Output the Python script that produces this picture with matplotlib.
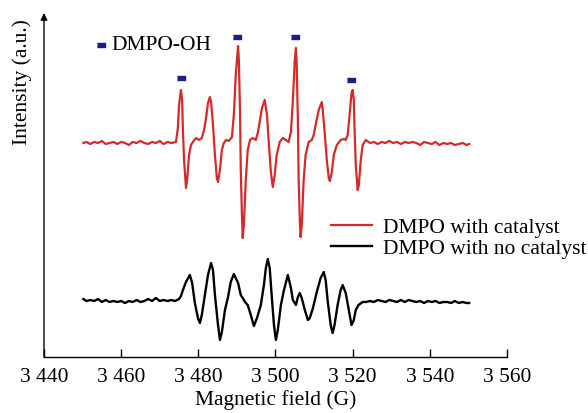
import matplotlib
matplotlib.use("Agg")
import matplotlib.pyplot as plt
from matplotlib.ticker import FuncFormatter

plt.rcParams["font.family"] = ["Liberation Serif", "DejaVu Serif"]
plt.rcParams["font.size"] = 15.5

# EPR spectrum with catalyst (field in G, intensity in a.u.)
field_cat = [
    3450.2, 3451, 3452, 3453, 3454, 3455, 3456, 3457, 3458, 3459, 3460, 3461, 3462,
    3463, 3464, 3465, 3466, 3467, 3468, 3469, 3470, 3471, 3472, 3473, 3474.2,
    3474.7, 3475.0, 3475.5, 3475.8, 3476.0, 3476.3, 3476.8, 3477.1, 3477.6, 3478.1,
    3478.6, 3479.4, 3480.2, 3480.9, 3481.5, 3482.0, 3482.5, 3483.0, 3483.3, 3483.8,
    3484.3, 3484.8, 3485.1, 3485.6, 3486.1, 3486.6, 3487.2, 3487.9, 3488.7, 3489.2,
    3489.7, 3490.3, 3490.5, 3490.8, 3491.0, 3491.3, 3491.5, 3491.8, 3492.3, 3492.8,
    3493.4, 3494.1, 3494.9, 3495.4, 3495.9, 3496.5, 3497.2, 3497.8, 3498.3, 3498.8,
    3499.3, 3499.8, 3500.3, 3501.1, 3501.9, 3502.7, 3503.4, 3504.0, 3504.5, 3505.0,
    3505.3, 3505.5, 3505.8, 3506.0, 3506.3, 3506.5, 3506.8, 3507.3, 3507.8, 3508.6,
    3509.4, 3509.9, 3510.4, 3511.2, 3512.0, 3512.2, 3512.8, 3513.3, 3513.8, 3514.1,
    3514.6, 3515.1, 3515.9, 3516.9, 3517.7, 3518.2, 3518.7, 3519.2, 3519.7, 3520.0,
    3520.3, 3520.5, 3520.8, 3521.3, 3521.6, 3522.1, 3522.6, 3523.4,
    3524.5, 3525.5, 3526.5, 3527.5, 3528.5, 3529.5, 3530.5, 3531.5, 3532.5, 3533.5,
    3534.5, 3535.5, 3536.5, 3537.5, 3538.5, 3539.5, 3540.5, 3541.5, 3542.5, 3543.5,
    3544.5, 3545.5, 3546.5, 3547.5, 3548.5, 3549.5, 3550.2,
]
signal_cat = [
    214, 215, 213, 215, 214, 216, 213, 214, 215, 213, 215, 214, 212,
    215, 214, 216, 214, 213, 215, 214, 216, 213, 215, 214, 215,
    229, 252, 267, 257, 227, 197, 169, 177, 202, 212,
    215, 219, 217, 219, 227, 239, 254, 260, 255, 232,
    202, 179, 175, 187, 207, 214, 217, 216, 220, 242,
    282, 311, 297, 247, 187, 142, 119, 132, 177, 207,
    217, 219, 217, 224, 235, 249, 257, 242, 212, 185,
    170, 182, 202, 215, 219, 217, 215, 225, 257, 297,
    309, 292, 237, 177, 137, 120, 132, 177, 202, 215,
    217, 222, 232, 247, 255, 249, 222, 197, 179, 176,
    185, 202, 212, 217, 218, 217, 222, 242, 264, 267,
    257, 227, 192, 167, 172, 197, 212, 217,
    214, 215, 213, 215, 214, 216, 214, 215, 213, 215,
    214, 215, 214, 212, 215, 214, 213, 215, 212, 214,
    213, 214, 212, 213, 214, 212, 213,
]

# EPR spectrum without catalyst
field_blank = [
    3450.2, 3451, 3452, 3453, 3454, 3455, 3456, 3457, 3458, 3459, 3460, 3461, 3462,
    3463, 3464, 3465, 3466, 3467, 3468, 3469, 3470, 3471, 3472, 3473, 3474,
    3475.0, 3475.5, 3476.0, 3476.8, 3477.8, 3478.4, 3479.1, 3479.9, 3480.4, 3480.9,
    3481.7, 3482.5, 3483.3, 3483.8, 3484.3, 3485.1, 3485.6, 3486.1, 3486.9, 3487.7,
    3488.4, 3489.2, 3489.7, 3490.3, 3491.0, 3491.5, 3492.1, 3492.8, 3493.6, 3494.4,
    3495.2, 3496.2, 3497.0, 3497.5, 3498.0, 3498.5, 3499.0, 3499.6, 3500.1, 3500.6,
    3501.4, 3502.2, 3503.2, 3504.0, 3504.5, 3505.3, 3505.8, 3506.3, 3506.8, 3507.6,
    3508.4, 3508.9, 3509.7, 3510.7, 3511.7, 3512.5, 3513.0, 3513.5, 3514.3, 3514.8,
    3515.3, 3516.1, 3516.9, 3517.4, 3518.2, 3519.0, 3519.7, 3520.3, 3520.8, 3521.5,
    3522.6,
    3523.5, 3524.5, 3525.5, 3526.5, 3527.5, 3528.5, 3529.5, 3530.5, 3531.5, 3532.5,
    3533.5, 3534.5, 3535.5, 3536.5, 3537.5, 3538.5, 3539.5, 3540.5, 3541.5, 3542.5,
    3543.5, 3544.5, 3545.5, 3546.5, 3547.5, 3548.5, 3549.5, 3550.2,
]
signal_blank = [
    58, 56, 57, 56, 58, 55, 57, 55, 56, 55, 56, 54, 56,
    55, 57, 55, 56, 58, 56, 59, 56, 57, 56, 57, 56,
    58, 61, 67, 75, 82, 74, 54, 39, 34, 42,
    62, 82, 94, 87, 62, 32, 17, 25, 47, 60,
    75, 83, 79, 74, 62, 59, 55, 52, 42, 31,
    39, 52, 72, 89, 98, 89, 62, 32, 17, 27,
    52, 67, 82, 69, 57, 52, 60, 64, 59, 47,
    37, 39, 49, 65, 79, 85, 77, 57, 32, 24,
    32, 52, 67, 72, 64, 47, 32, 37, 47, 52,
    55,
    55, 56, 55, 57, 56, 55, 57, 56, 55, 57,
    55, 57, 56, 55, 56, 54, 56, 55, 56, 54,
    55, 55, 54, 56, 54, 55, 54, 54,
]

# DMPO-OH quartet positions and marker heights
oh_field = [3475.4, 3490.1, 3505.0, 3519.6]
oh_level = [279, 320, 320, 277]

xticks = [3440, 3460, 3480, 3500, 3520, 3540, 3560]

RED = "#d42a2a"
NAVY = "#1c1c8a"

fig = plt.figure(figsize=(5.88, 4.13), dpi=100)
ax = fig.add_axes([44 / 588, 56 / 413, 463 / 588, 344 / 413])

ax.plot(field_cat, signal_cat, color=RED, lw=1.6, label="DMPO with catalyst", zorder=3)
ax.plot(field_blank, signal_blank, color="black", lw=1.7, label="DMPO with no catalyst", zorder=3)

rect = [(-1.0, -0.55), (1.0, -0.55), (1.0, 0.55), (-1.0, 0.55)]
ax.plot(oh_field, oh_level, ls="none", marker=rect, ms=6.0, color=NAVY, zorder=4)

ax.set_xlim(3440, 3560)
ax.set_ylim(0, 344)
ax.set_xticks(xticks)
ax.xaxis.set_major_formatter(FuncFormatter(lambda v, p: f"{int(v) // 1000} {int(v) % 1000:03d}"))
ax.set_yticks([])
ax.tick_params(axis="x", direction="in", length=6, width=1.0, pad=8, labelsize=15.5)

for side in ("top", "right", "left"):
    ax.spines[side].set_visible(False)
ax.spines["bottom"].set_linewidth(1.0)

# left axis drawn as an arrow
ax.annotate("", xy=(0, 1.0), xytext=(0, 0), xycoords="axes fraction",
            arrowprops=dict(arrowstyle="-|>", color="black", lw=1.0,
                            mutation_scale=10, shrinkA=0, shrinkB=0))

ax.set_xlabel("Magnetic field (G)", fontsize=15.5, labelpad=2.5)
ax.set_ylabel("Intensity (a.u.)", fontsize=15.5)
ax.yaxis.set_label_coords(-0.025, 0.80)

# species key
ax.plot([3454.7], [312], ls="none", marker=rect, ms=6.0, color=NAVY, clip_on=False)
ax.text(3457.5, 312, "DMPO-OH", fontsize=15.5, va="center", ha="left")

ax.legend(loc="upper left", bbox_to_anchor=(0.62, 0.405), frameon=False,
          handlelength=1.9, handletextpad=0.5, labelspacing=0.05,
          borderpad=0, borderaxespad=0, fontsize=15.5)

fig.savefig("out.png", dpi=100)
